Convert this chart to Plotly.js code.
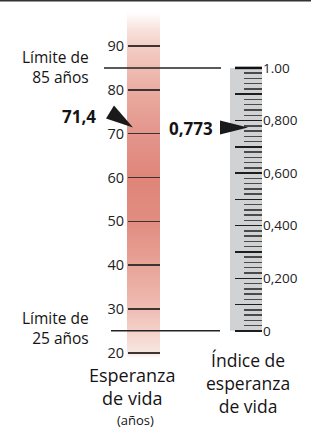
<!DOCTYPE html>
<html>
<head>
<meta charset="utf-8">
<script src="https://cdn.plot.ly/plotly-3.0.1.min.js"></script>
<style>html,body{margin:0;padding:0;background:#fff;}#chart{width:311px;height:429px;}</style>
</head>
<body>
<div id="chart"></div>
<script>
// ---- data ----
var ageTicks = [20, 30, 40, 50, 60, 70, 80, 90];
var ageTickText = ['20', '30', '40', '50', '60', '70', '80', '90'];
var lowerLimit = 25;          // años
var upperLimit = 85;          // años
var lifeExpectancy = 71.4;    // años
var lifeExpectancyText = '71,4';
var indexValue = 0.773;
var indexValueText = '0,773';
var indexTicks = [0, 0.1, 0.2, 0.3, 0.4, 0.5, 0.6, 0.7, 0.8, 0.9, 1.0];
var indexTickText = ['0', '', '0,200', '', '0,400', '', '0,600', '', '0,800', '', '1.00'];
var indexMinorTicks = [0.02,0.04,0.06,0.08,0.12,0.14,0.16,0.18,0.22,0.24,0.26,0.28,0.32,0.34,0.36,0.38,
  0.42,0.44,0.46,0.48,0.52,0.54,0.56,0.58,0.62,0.64,0.66,0.68,0.72,0.74,0.76,0.78,0.82,0.84,0.86,0.88,
  0.92,0.94,0.96,0.98];
var barAgeRange = [18.8, 97.8];

// ---- layout helpers ----
var W = 311, H = 429;
var yLo = 2.6, yHi = 100.5;
function idx(a){ return (a - lowerLimit) / (upperLimit - lowerLimit); }
var FONT = '"Open Sans", "DejaVu Sans", sans-serif';
var TXT = '#161314';

var bar = {
  type: 'scatter', mode: 'lines',
  x: [127, 160, 160, 127, 127],
  y: [barAgeRange[0], barAgeRange[0], barAgeRange[1], barAgeRange[1], barAgeRange[0]],
  fill: 'toself',
  fillgradient: {
    type: 'vertical', start: barAgeRange[0], stop: barAgeRange[1],
    colorscale: [
      [0.00, '#ffffff'], [0.015, '#f8e6e1'], [0.14, '#efbdb3'], [0.265, '#e8a498'],
      [0.39, '#e28d81'], [0.515, '#df8579'], [0.64, '#e3948a'], [0.765, '#eaaa9f'],
      [0.89, '#f2cbc2'], [0.95, '#f8e3dd'], [1.00, '#ffffff']
    ]
  },
  line: {width: 0}, hoverinfo: 'skip', showlegend: false
};

var layout = {
  width: W, height: H,
  margin: {l: 0, r: 0, t: 0, b: 0},
  paper_bgcolor: '#fff', plot_bgcolor: '#fff',
  showlegend: false,
  font: {family: FONT, color: TXT},
  xaxis: {range: [0, W], visible: false, fixedrange: true},
  yaxis: {
    range: [yLo, yHi], anchor: 'free', position: 127 / W, side: 'left',
    tickmode: 'array', tickvals: ageTicks, ticktext: ageTickText,
    ticks: 'inside', ticklen: 32, tickwidth: 1.5, tickcolor: '#3d3333',
    ticklabelstandoff: 3,
    tickfont: {size: 14.5, color: '#222', family: FONT},
    showgrid: false, zeroline: false, showline: false, fixedrange: true
  },
  yaxis2: {
    range: [idx(yLo), idx(yHi)], overlaying: 'y', anchor: 'free', position: 262 / W, side: 'right',
    tickmode: 'array', tickvals: indexTicks, ticktext: indexTickText,
    ticks: 'inside', ticklen: 27, tickwidth: 1.5, tickcolor: '#1e1e1e',
    minor: {tickmode: 'array', tickvals: indexMinorTicks, ticks: 'inside', ticklen: 18, tickwidth: 1.5, tickcolor: '#4a4a4a'},
    tickfont: {size: 13.5, color: '#222', family: FONT},
    showgrid: false, zeroline: false, showline: false, fixedrange: true
  },
  shapes: [
    {type: 'line', xref: 'paper', yref: 'paper', x0: 0, x1: 1, y0: 1, y1: 1, line: {color: '#333', width: 3}},
    {type: 'rect', xref: 'x', yref: 'y2', x0: 230, x1: 262, y0: 0, y1: 1, fillcolor: '#d1d2d4', line: {width: 0}, layer: 'below'},
    {type: 'line', xref: 'x', yref: 'y2', x0: 235, x1: 262, y0: 1, y1: 1, line: {color: '#111', width: 2.5}},
    {type: 'line', xref: 'x', yref: 'y', x0: 104, x1: 221, y0: upperLimit, y1: upperLimit, line: {color: '#222', width: 1.5}},
    {type: 'line', xref: 'x', yref: 'y', x0: 111, x1: 220, y0: lowerLimit, y1: lowerLimit, line: {color: '#222', width: 1.5}},
    {type: 'path', xref: 'x', yref: 'y', xsizemode: 'pixel', ysizemode: 'pixel', xanchor: 133, yanchor: lifeExpectancy,
     path: 'M0,0 L-19,22 L-27,9 Z', fillcolor: '#1a1a1a', line: {width: 0}},
    {type: 'path', xref: 'x', yref: 'y2', xsizemode: 'pixel', ysizemode: 'pixel', xanchor: 248, yanchor: indexValue,
     path: 'M0,0 L-28,7 L-28,-7 Z', fillcolor: '#1a1a1a', line: {width: 0}}
  ],
  annotations: [
    {text: 'Límite de<br>' + upperLimit + ' años', x: 91, y: upperLimit, xref: 'x', yref: 'y', xanchor: 'right', yanchor: 'middle', yshift: 1, align: 'right', showarrow: false, font: {size: 15.5, color: TXT}},
    {text: 'Límite de<br>' + lowerLimit + ' años', x: 91, y: lowerLimit, xref: 'x', yref: 'y', xanchor: 'right', yanchor: 'middle', yshift: 3, align: 'right', showarrow: false, font: {size: 15.5, color: TXT}},
    {text: '<b>' + lifeExpectancyText + '</b>', x: 98, y: lifeExpectancy, xref: 'x', yref: 'y', xanchor: 'right', yanchor: 'middle', yshift: 11, showarrow: false, font: {size: 17, color: TXT}},
    {text: '<b>' + indexValueText + '</b>', x: 215, y: indexValue, xref: 'x', yref: 'y2', xanchor: 'right', yanchor: 'middle', yshift: -1, showarrow: false, font: {size: 17, color: TXT}},
    {text: 'Esperanza<br>de vida', x: 132, y: 1 - 386 / H, xref: 'x', yref: 'paper', xanchor: 'center', yanchor: 'middle', showarrow: false, font: {size: 18, color: TXT}},
    {text: '(años)', x: 135, y: 1 - 420 / H, xref: 'x', yref: 'paper', xanchor: 'center', yanchor: 'middle', showarrow: false, font: {size: 13, color: TXT}},
    {text: 'Índice de<br>esperanza<br>de vida', x: 248, y: 1 - 383 / H, xref: 'x', yref: 'paper', xanchor: 'center', yanchor: 'middle', showarrow: false, font: {size: 17.5, color: TXT}}
  ]
};

Plotly.newPlot('chart', [bar], layout, {displayModeBar: false, staticPlot: true});
</script>
</body>
</html>
